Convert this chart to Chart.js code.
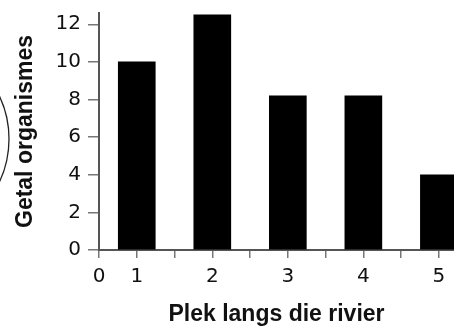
<!DOCTYPE html>
<html>
<head>
<meta charset="utf-8">
<script src="https://cdn.jsdelivr.net/npm/chart.js@4"></script>
<style>
  html, body { margin: 0; padding: 0; background: #fff; }
  #wrap { width: 454px; height: 328px; position: relative; }
</style>
</head>
<body>
<div id="wrap"><canvas id="rivierChart"></canvas></div>
<script>
// data
const places = [1, 2, 3, 4, 5];
const organismCounts = [10, 12.5, 8.2, 8.2, 4];
const yTickValues = [0, 2, 4, 6, 8, 10, 12];
const xTickValues = [0.5, 1, 1.5, 2, 2.5, 3, 3.5, 4, 4.5, 5];
const xTitle = "Plek langs die rivier";
const yTitle = "Getal organismes";

const TICK_FONT = "'DejaVu Sans', sans-serif";
const TITLE_FONT = "'Liberation Sans', Arial, sans-serif";

// the cut-off circle at the left edge of the original figure
const leftArc = {
  id: "leftArc",
  afterDraw(chart) {
    const c = chart.ctx;
    c.save();
    c.strokeStyle = "#222";
    c.lineWidth = 1.3;
    c.beginPath();
    c.arc(-91, 139, 100, -0.6, 0.6);
    c.stroke();
    c.restore();
  }
};

const ctx = document.getElementById("rivierChart").getContext("2d");
new Chart(ctx, {
  type: "bar",
  data: {
    datasets: [{
      data: places.map((p, i) => ({ x: p, y: organismCounts[i] })),
      backgroundColor: "#000",
      borderWidth: 0,
      barThickness: 37
    }]
  },
  options: {
    responsive: true,
    maintainAspectRatio: false,
    animation: false,
    layout: { padding: { top: 13, right: 0, left: 0, bottom: 0 } },
    plugins: { legend: { display: false }, tooltip: { enabled: false } },
    scales: {
      x: {
        type: "linear",
        offset: false,
        min: 0.5,
        max: 5.2,
        afterBuildTicks: s => { s.ticks = xTickValues.map(v => ({ value: v })); },
        afterFit: s => { s.height = 78; s.paddingLeft = 0; s.paddingRight = 0; },
        ticks: {
          color: "#111",
          font: { family: TICK_FONT, size: 20 },
          padding: 7,
          autoSkip: false,
          maxRotation: 0,
          callback: v => v === 0.5 ? "0" : (Number.isInteger(v) ? String(v) : "")
        },
        grid: { display: true, offset: false, drawOnChartArea: false, drawTicks: true, tickLength: 8, color: "#777", lineWidth: 1.5 },
        border: { display: true, color: "#555", width: 2 },
        title: {
          display: true,
          text: xTitle,
          color: "#111",
          font: { family: TITLE_FONT, size: 23, weight: "bold" },
          padding: { top: 0, bottom: 0 }
        }
      },
      y: {
        min: 0,
        max: 12.6,
        afterBuildTicks: s => { s.ticks = yTickValues.map(v => ({ value: v })); },
        afterFit: s => { s.width = 99; s.paddingTop = 0; s.paddingBottom = 0; },
        ticks: {
          color: "#111",
          font: { family: TICK_FONT, size: 20 },
          padding: 7
        },
        grid: { display: true, drawOnChartArea: false, drawTicks: true, tickLength: 11, color: "#777", lineWidth: 1.5 },
        border: { display: true, color: "#555", width: 2 },
        title: {
          display: true,
          text: yTitle,
          color: "#111",
          font: { family: TITLE_FONT, size: 23, weight: "bold" },
          padding: { top: 12, bottom: 0 }
        }
      }
    }
  },
  plugins: [leftArc]
});
</script>
</body>
</html>
